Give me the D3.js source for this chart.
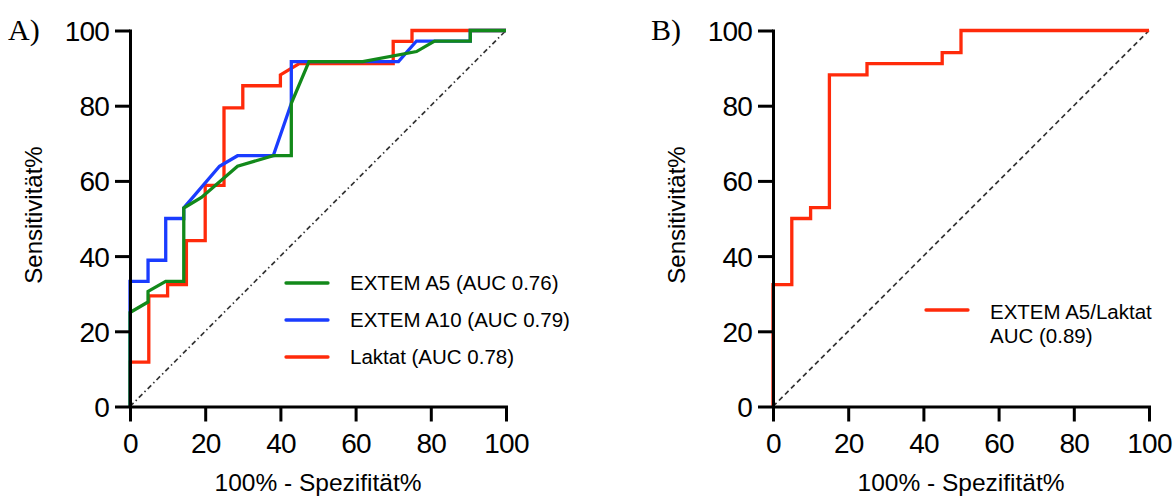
<!DOCTYPE html>
<html>
<head>
<meta charset="utf-8">
<script src="https://cdn.jsdelivr.net/npm/d3@7"></script>
<style>
  html, body { margin: 0; padding: 0; background: #fff; }
  svg { display: block; }
  text { font-family: "Liberation Sans", Arial, sans-serif; fill: #000; }
</style>
</head>
<body>
<svg id="chart" width="1174" height="497"></svg>
<script>
// ---------- data ----------
const tickValues = [0, 20, 40, 60, 80, 100];

// Panel A: EXTEM A5
const a5X = [0, 0, 4.8, 4.8, 9.5, 14.3, 14.3, 19.0, 28.6, 38.1, 42.9, 42.9, 47.6, 61.9, 76.2, 81.0, 90.5, 90.5, 100];
const a5Y = [0, 25.0, 27.8, 30.6, 33.3, 33.3, 52.8, 55.6, 63.9, 66.7, 66.7, 80.6, 91.7, 91.7, 94.4, 97.2, 97.2, 100, 100];
// Panel A: EXTEM A10
const a10X = [0, 0, 4.8, 4.8, 9.5, 9.5, 14.3, 14.3, 23.8, 28.6, 38.1, 42.9, 42.9, 71.4, 76.2, 81.0, 90.5, 90.5, 100];
const a10Y = [0, 33.3, 33.3, 38.9, 38.9, 50.0, 50.0, 52.8, 63.9, 66.7, 66.7, 80.6, 91.7, 91.7, 97.2, 97.2, 97.2, 100, 100];
// Panel A: Laktat
const lakX = [0, 0, 5, 5, 10, 10, 15, 15, 20, 20, 25, 25, 30, 30, 40, 40, 45, 70, 70, 75, 75, 100];
const lakY = [0, 11.8, 11.8, 29.4, 29.4, 32.4, 32.4, 44.1, 44.1, 58.8, 58.8, 79.4, 79.4, 85.3, 85.3, 88.2, 91.2, 91.2, 97.1, 97.1, 100, 100];
// Panel B: EXTEM A5/Laktat
const combX = [0, 0, 5, 5, 10, 10, 15, 15, 25, 25, 45, 45, 50, 50, 100];
const combY = [0, 32.4, 32.4, 50, 50, 52.9, 52.9, 88.2, 88.2, 91.2, 91.2, 94.1, 94.1, 100, 100];

const legendA = ["EXTEM A5 (AUC 0.76)", "EXTEM A10 (AUC 0.79)", "Laktat (AUC 0.78)"];
const legendB = ["EXTEM A5/Laktat", "AUC (0.89)"];
const xTitle = "100% - Spezifität%";
const yTitle = "Sensitivität%";

const RED = "#ff2a0a", GREEN = "#12891a", BLUE = "#1a3cff";

// ---------- drawing ----------
const svg = d3.select("#chart");
const plotTop = 30.5, plotBottom = 406.5, plotW = 376;

function zip(xs, ys) { return xs.map((x, i) => [x, ys[i]]); }

function panel(x0, label, series, diagDash, legendFn) {
  const x = d3.scaleLinear().domain([0, 100]).range([x0, x0 + plotW]);
  const y = d3.scaleLinear().domain([0, 100]).range([plotBottom, plotTop]);
  const g = svg.append("g");

  // diagonal reference
  g.append("line")
    .attr("x1", x(0)).attr("y1", y(0)).attr("x2", x(100)).attr("y2", y(100))
    .attr("stroke", "#333").attr("stroke-width", 1.7)
    .attr("stroke-dasharray", diagDash);

  const line = d3.line().x(d => x(d[0])).y(d => y(d[1]));
  series.forEach(s => {
    g.append("path").datum(zip(s.x, s.y))
      .attr("d", line).attr("fill", "none")
      .attr("stroke", s.color).attr("stroke-width", 3.3)
      .attr("stroke-linejoin", "miter").attr("stroke-linecap", "butt");
  });

  // axes
  const yAxis = d3.axisLeft(y).tickValues(tickValues).tickSize(15).tickSizeOuter(0).tickPadding(6);
  const xAxis = d3.axisBottom(x).tickValues(tickValues).tickSize(15).tickSizeOuter(0).tickPadding(12);
  const gy = g.append("g").attr("transform", `translate(${x(0)},0)`).call(yAxis);
  const gx = g.append("g").attr("transform", `translate(0,${y(0)})`).call(xAxis);
  [gx, gy].forEach(a => {
    a.select(".domain").attr("stroke", "#000").attr("stroke-width", 3).attr("stroke-linecap", "square");
    a.selectAll(".tick line").attr("stroke", "#000").attr("stroke-width", 3);
    a.selectAll(".tick text").attr("fill", "#000")
      .style("font-family", '"Liberation Sans", Arial, sans-serif')
      .style("font-size", "28px").style("letter-spacing", "-0.8px");
  });
  gy.selectAll(".tick text").attr("dy", "0.36em");

  // axis titles
  g.append("text")
    .attr("x", x(50)).attr("y", 490.5)
    .attr("text-anchor", "middle")
    .style("font-size", "24.5px")
    .text(xTitle);
  g.append("text")
    .attr("transform", `translate(${x0 - 88},${215}) rotate(-90)`)
    .attr("text-anchor", "middle")
    .style("font-size", "24px")
    .text(yTitle);

  // panel label
  g.append("text")
    .attr("x", x0 - 122).attr("y", 40)
    .style("font-family", '"Liberation Serif", "Times New Roman", serif')
    .style("font-size", "30px")
    .text(label);

  legendFn(g);
}

panel(130, "A)", [
  { x: lakX, y: lakY, color: RED },
  { x: a10X, y: a10Y, color: BLUE },
  { x: a5X, y: a5Y, color: GREEN }
], "5,3,1.5,3", g => {
  const cols = [GREEN, BLUE, RED];
  const ys = [283, 320, 357];
  legendA.forEach((t, i) => {
    g.append("line").attr("x1", 286).attr("x2", 328).attr("y1", ys[i]).attr("y2", ys[i])
      .attr("stroke", cols[i]).attr("stroke-width", 3.3).attr("stroke-linecap", "round");
    g.append("text").attr("x", 350).attr("y", ys[i]).attr("dy", "0.36em")
      .style("font-size", "20.5px").text(t);
  });
});

panel(773, "B)", [
  { x: combX, y: combY, color: RED }
], "5,3.5", g => {
  g.append("line").attr("x1", 926).attr("x2", 968).attr("y1", 310).attr("y2", 310)
    .attr("stroke", RED).attr("stroke-width", 3.3).attr("stroke-linecap", "round");
  legendB.forEach((t, i) => {
    g.append("text").attr("x", 990).attr("y", 319 + i * 24)
      .style("font-size", "20.5px").text(t);
  });
});
</script>
</body>
</html>
